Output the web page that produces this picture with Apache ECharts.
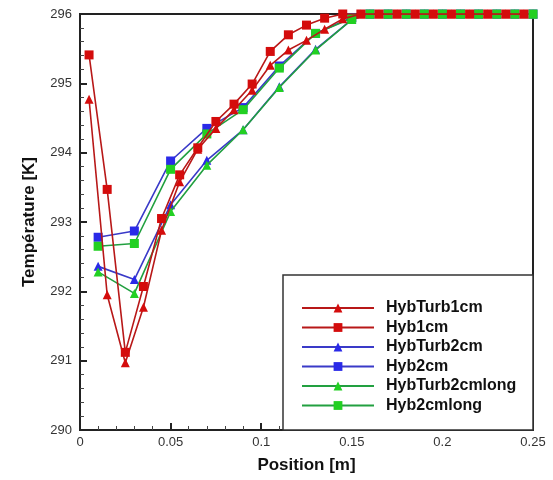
<!DOCTYPE html>
<html>
<head>
<meta charset="utf-8">
<script src="https://cdn.jsdelivr.net/npm/echarts@6/dist/echarts.min.js"></script>
<style>html,body{margin:0;padding:0;background:#fff}#c{width:553px;height:480px}</style>
</head>
<body>
<div id="c"></div>
<script>
// ---- data ----
const seriesNames = ['HybTurb1cm', 'Hyb1cm', 'HybTurb2cm', 'Hyb2cm', 'HybTurb2cmlong', 'Hyb2cmlong'];

const x1cm = [0.005, 0.015, 0.025, 0.035, 0.045, 0.055, 0.065, 0.075, 0.085, 0.095, 0.105, 0.115, 0.125,
  0.135, 0.145, 0.155, 0.165, 0.175, 0.185, 0.195, 0.205, 0.215, 0.225, 0.235, 0.245];
const hybTurb1cm = [294.77, 291.95, 290.97, 291.77, 292.88, 293.58, 294.05, 294.35, 294.62, 294.9, 295.26, 295.48, 295.62,
  295.78, 295.93, 296, 296, 296, 296, 296, 296, 296, 296, 296, 296];
const hyb1cm = [295.41, 293.47, 291.12, 292.07, 293.05, 293.68, 294.07, 294.45, 294.7, 294.99, 295.46, 295.7, 295.84,
  295.94, 296, 296, 296, 296, 296, 296, 296, 296, 296, 296, 296];

const x2cm = [0.01, 0.03, 0.05, 0.07, 0.09, 0.11, 0.13, 0.15, 0.16, 0.17, 0.18, 0.19, 0.2, 0.21, 0.22, 0.23, 0.24, 0.25];
const hybTurb2cm = [292.36, 292.17, 293.25, 293.89, 294.33, 294.95, 295.49, 295.92, 296, 296, 296, 296, 296, 296, 296, 296, 296, 296];
const hyb2cm = [292.78, 292.87, 293.88, 294.35, 294.65, 295.25, 295.72, 295.95, 296, 296, 296, 296, 296, 296, 296, 296, 296, 296];
const hybTurb2cmlong = [292.28, 291.97, 293.15, 293.82, 294.33, 294.94, 295.48, 295.92, 296, 296, 296, 296, 296, 296, 296, 296, 296, 296];
const hyb2cmlong = [292.65, 292.69, 293.76, 294.27, 294.62, 295.22, 295.72, 295.94, 296, 296, 296, 296, 296, 296, 296, 296, 296, 296];

const xTicks = [0, 0.05, 0.1, 0.15, 0.2, 0.25];
const yTicks = [290, 291, 292, 293, 294, 295, 296];

// ---- chart ----
const pair = (xs, ys) => xs.map((x, i) => [x, ys[i]]);
const FONT = '"Liberation Sans", Arial, sans-serif';

function mk(name, xs, ys, symbol, lineColor, markColor, z) {
  return {
    name, type: 'line', data: pair(xs, ys), symbol, symbolSize: 9,
    showAllSymbol: true, z,
    lineStyle: { color: lineColor, width: 1.6 },
    itemStyle: { color: markColor, borderWidth: 0 },
    emphasis: { disabled: true },
    animation: false
  };
}

const chart = echarts.init(document.getElementById('c'), null, { renderer: 'canvas' });
chart.setOption({
  animation: false,
  backgroundColor: '#fff',
  textStyle: { fontFamily: FONT },
  grid: { left: 80, right: 20, top: 14, bottom: 50, show: true, borderColor: '#222', borderWidth: 2, backgroundColor: 'transparent' },
  graphic: [{
    type: 'rect', z: 10, shape: { x: 283, y: 275, width: 250, height: 155 },
    style: { fill: '#fff', stroke: '#333', lineWidth: 1.5 }
  }],
  legend: {
    data: seriesNames, orient: 'vertical', left: 296, top: 295, z: 20,
    itemWidth: 72, itemHeight: 11, itemGap: 3.5,
    textStyle: { fontFamily: FONT, fontSize: 16, lineHeight: 16, fontWeight: 'bold', color: '#111', padding: [0, 0, 0, 7] },
    selectedMode: false
  },
  xAxis: {
    type: 'value', min: xTicks[0], max: xTicks[xTicks.length - 1], interval: 0.05,
    name: 'Position [m]', nameLocation: 'middle', nameGap: 27,
    nameTextStyle: { fontFamily: FONT, fontSize: 17, fontWeight: 'bold', color: '#111' },
    axisLine: { show: true, lineStyle: { color: '#222', width: 2 } },
    axisTick: { show: true, inside: true, length: 7, lineStyle: { color: '#222', width: 2 } },
    minorTick: { show: true, splitNumber: 5, length: 4, lineStyle: { color: '#444', width: 1 } },
    axisLabel: { fontFamily: FONT, fontSize: 13, color: '#333', margin: 6, formatter: v => String(+v.toFixed(2)) },
    splitLine: { show: false }
  },
  yAxis: {
    type: 'value', min: yTicks[0], max: yTicks[yTicks.length - 1], interval: 1,
    name: 'Température [K]', nameLocation: 'middle', nameGap: 42,
    nameTextStyle: { fontFamily: FONT, fontSize: 17, fontWeight: 'bold', color: '#111' },
    axisLine: { show: true, lineStyle: { color: '#222', width: 2 } },
    axisTick: { show: true, inside: true, length: 7, lineStyle: { color: '#222', width: 2 } },
    minorTick: { show: true, splitNumber: 5, length: 4, lineStyle: { color: '#444', width: 1 } },
    axisLabel: { fontFamily: FONT, fontSize: 13, color: '#333', margin: 8 },
    splitLine: { show: false }
  },
  series: [
    mk('HybTurb2cm', x2cm, hybTurb2cm, 'triangle', '#3a3ac8', '#2a2ae8', 2),
    mk('Hyb2cm', x2cm, hyb2cm, 'rect', '#3a3ac8', '#2a2ae8', 2),
    mk('HybTurb2cmlong', x2cm, hybTurb2cmlong, 'triangle', '#22a040', '#22d022', 3),
    mk('Hyb2cmlong', x2cm, hyb2cmlong, 'rect', '#22a040', '#22d022', 3),
    mk('HybTurb1cm', x1cm, hybTurb1cm, 'triangle', '#b81818', '#d40c0c', 4),
    mk('Hyb1cm', x1cm, hyb1cm, 'rect', '#b81818', '#d40c0c', 4)
  ]
});
</script>
</body>
</html>
